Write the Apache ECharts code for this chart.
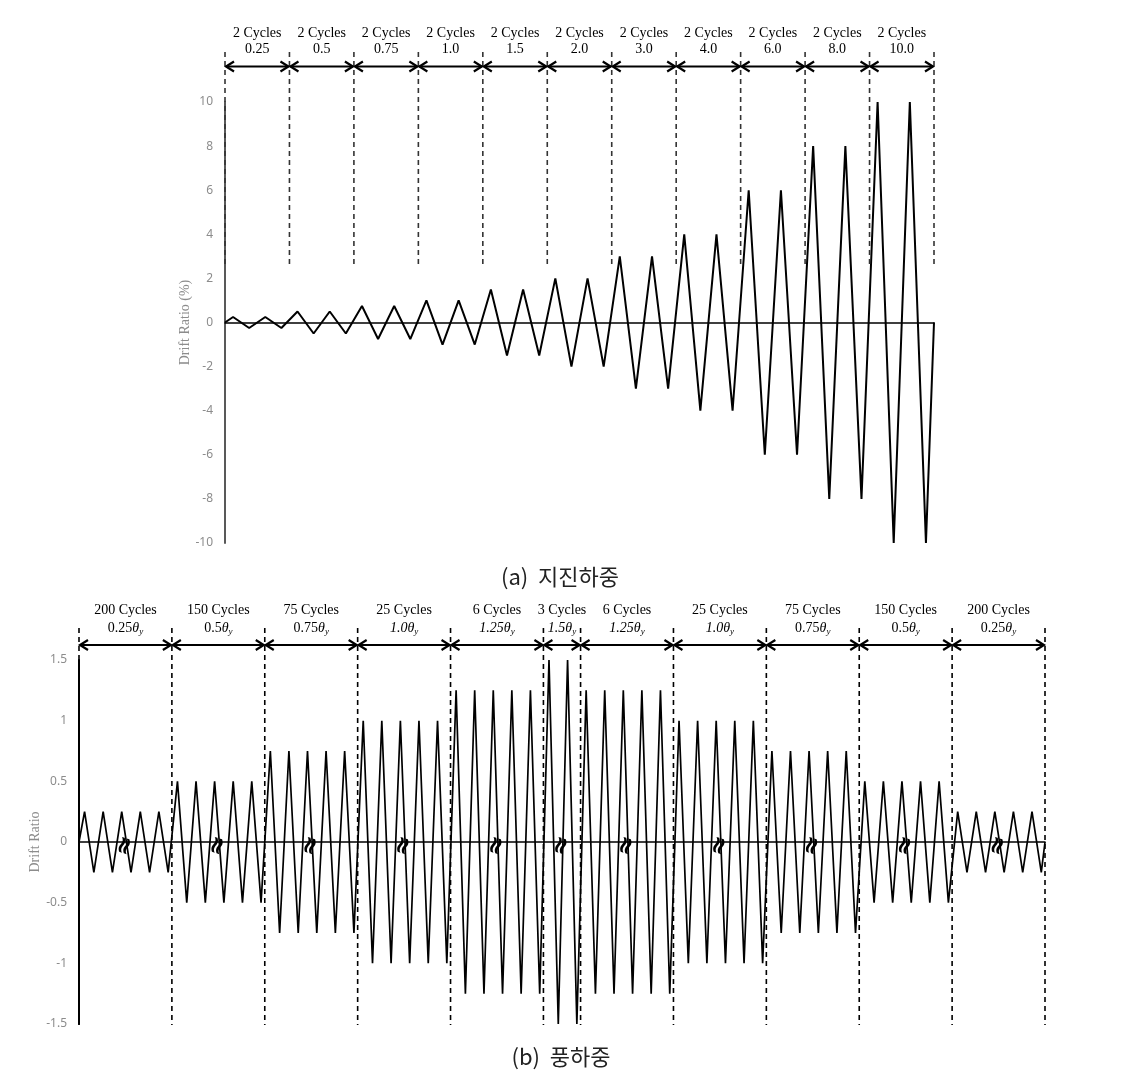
<!DOCTYPE html>
<html>
<head>
<meta charset="utf-8">
<script src="https://cdn.jsdelivr.net/npm/echarts@6/dist/echarts.min.js"></script>
<style>html,body{margin:0;padding:0;background:#fff;}#c{width:1139px;height:1073px;}</style>
</head>
<body>
<div id="c"></div>
<script>
// ---------- (a) seismic loading ----------
const topCycleLabels = ['2 Cycles','2 Cycles','2 Cycles','2 Cycles','2 Cycles','2 Cycles','2 Cycles','2 Cycles','2 Cycles','2 Cycles','2 Cycles'];
const topAmpLabels = ['0.25','0.5','0.75','1.0','1.5','2.0','3.0','4.0','6.0','8.0','10.0'];
const topGroupCycles = [2,2,2,2,2,2,2,2,2,2,2];
const topCycleAmp = [0.25,0.25,0.5,0.5,0.75,0.75,1,1,1.5,1.5,2,2,3,3,4,4,6,6,8,8,10,10];
const topYTicks = {min:-10, max:10, interval:2};

// ---------- (b) wind loading ----------
const botCycleLabels = ['200 Cycles','150 Cycles','75 Cycles','25 Cycles','6 Cycles','3 Cycles','6 Cycles','25 Cycles','75 Cycles','150 Cycles','200 Cycles'];
const botAmpLabels = ['0.25','0.5','0.75','1.0','1.25','1.5','1.25','1.0','0.75','0.5','0.25'];
const botItalic = [false,false,false,true,true,true,true,true,false,false,false];
const botGroupCycles = [5,5,5,5,5,2,5,5,5,5,5];
const botCycleAmp = [
  0.25,0.25,0.25,0.25,0.25,
  0.5,0.5,0.5,0.5,0.5,
  0.75,0.75,0.75,0.75,0.75,
  1.0,1.0,1.0,1.0,1.0,
  1.25,1.25,1.25,1.25,1.25,
  1.5,1.5,
  1.25,1.25,1.25,1.25,1.25,
  1.0,1.0,1.0,1.0,1.0,
  0.75,0.75,0.75,0.75,0.75,
  0.5,0.5,0.5,0.5,0.5,
  0.25,0.25,0.25,0.25,0.25
];
const botYTicks = {min:-1.5, max:1.5, interval:0.5};

function wave(amps, pk, tr) {
  const pts = [[0, 0]];
  amps.forEach((a, k) => { pts.push([k + pk, a]); pts.push([k + tr, -a]); });
  pts.push([amps.length, 0]);
  return pts;
}
function bounds(groups) {
  const b = [0]; groups.forEach(g => b.push(b[b.length - 1] + g)); return b;
}
const topBounds = bounds(topGroupCycles);
const botBounds = bounds(botGroupCycles);

const chart = echarts.init(document.getElementById('c'));
const tickFont = {color:'#8c8c8c', fontSize:12, fontFamily:'Noto Sans'};
chart.setOption({
  animation:false,
  backgroundColor:'#fff',
  grid:[
    {left:225, top:102, width:709, height:441},
    {left:79, top:660, width:966, height:364}
  ],
  xAxis:[
    {gridIndex:0, type:'value', min:0, max:topCycleAmp.length, show:true,
     axisLine:{onZero:true, lineStyle:{color:'#000', width:1.5}}, axisTick:{show:false}, axisLabel:{show:false}, splitLine:{show:false}},
    {gridIndex:1, type:'value', min:0, max:botCycleAmp.length, show:true,
     axisLine:{onZero:true, lineStyle:{color:'#000', width:1.5}}, axisTick:{show:false}, axisLabel:{show:false}, splitLine:{show:false}}
  ],
  yAxis:[
    {gridIndex:0, type:'value', min:topYTicks.min, max:topYTicks.max, interval:topYTicks.interval,
     name:'Drift Ratio (%)', nameLocation:'middle', nameGap:33, nameMoveOverlap:false,
     nameTextStyle:{color:'#8c8c8c', fontSize:14, fontFamily:'Liberation Serif'},
     axisLine:{show:true, onZero:false, lineStyle:{color:'#595959', width:2}}, axisTick:{show:false},
     axisLabel:Object.assign({margin:12}, tickFont), splitLine:{show:false}},
    {gridIndex:1, type:'value', min:botYTicks.min, max:botYTicks.max, interval:botYTicks.interval,
     name:'Drift Ratio', nameLocation:'middle', nameGap:37, nameMoveOverlap:false,
     nameTextStyle:{color:'#8c8c8c', fontSize:14, fontFamily:'Liberation Serif'},
     axisLine:{show:true, onZero:false, lineStyle:{color:'#000', width:2}}, axisTick:{show:false},
     axisLabel:Object.assign({margin:12}, tickFont), splitLine:{show:false}}
  ],
  series:[
    {type:'line', xAxisIndex:0, yAxisIndex:0, data:wave(topCycleAmp, 0.25, 0.75), symbol:'none',
     lineStyle:{color:'#000', width:2}, clip:false},
    {type:'line', xAxisIndex:1, yAxisIndex:1, data:wave(botCycleAmp, 0.3, 0.8), symbol:'none',
     lineStyle:{color:'#000', width:1.7}, clip:false}
  ]
});

// ---------- annotations built from axis scales ----------
const g = [];
function px(grid, x, y) { return chart.convertToPixel({xAxisIndex:grid, yAxisIndex:grid}, [x, y]); }

function arrow(x1, x2, y) {
  const L = 9, H = 5;
  g.push({type:'line', shape:{x1:x1+1, y1:y, x2:x2-1, y2:y}, style:{stroke:'#000', lineWidth:2}, z:10});
  g.push({type:'polyline', shape:{points:[[x1+L, y-H],[x1+1, y],[x1+L, y+H]]}, style:{stroke:'#000', lineWidth:2.2, fill:null}, z:10});
  g.push({type:'polyline', shape:{points:[[x2-L, y-H],[x2-1, y],[x2-L, y+H]]}, style:{stroke:'#000', lineWidth:2.2, fill:null}, z:10});
}
function dashed(x, y1, y2, color, w) {
  g.push({type:'line', shape:{x1:x, y1:y1, x2:x, y2:y2}, style:{stroke:color, lineWidth:w, lineDash:[5,4]}, z:5});
}

// top
topBounds.forEach(b => { const p = px(0, b, 0); dashed(p[0], 52, 264, '#333', 1.6); });
for (let i = 0; i < topAmpLabels.length; i++) {
  const a = px(0, topBounds[i], 0)[0], b = px(0, topBounds[i+1], 0)[0];
  arrow(a, b, 66.5);
  g.push({type:'text', x:(a+b)/2, y:33, style:{text:topCycleLabels[i], align:'center', verticalAlign:'middle', fontFamily:'Liberation Serif', fontSize:14, fill:'#000'}});
  g.push({type:'text', x:(a+b)/2, y:49, style:{text:topAmpLabels[i], align:'center', verticalAlign:'middle', fontFamily:'Liberation Serif', fontSize:14, fill:'#000'}});
}
// bottom
botBounds.forEach(b => { const p = px(1, b, 0); dashed(p[0], 628, 1025, '#000', 1.6); });
for (let i = 0; i < botAmpLabels.length; i++) {
  const a = px(1, botBounds[i], 0)[0], b = px(1, botBounds[i+1], 0)[0];
  arrow(a, b, 645);
  g.push({type:'text', x:(a+b)/2, y:610, style:{text:botCycleLabels[i], align:'center', verticalAlign:'middle', fontFamily:'Liberation Serif', fontSize:14, fill:'#000'}});
  const st = botItalic[i] ? 'italic' : 'normal';
  g.push({type:'text', x:(a+b)/2, y:628, style:{
    text:'{n|' + botAmpLabels[i] + '}{t|θ}{s|y}', align:'center', verticalAlign:'middle',
    rich:{
      n:{fontFamily:'Liberation Serif', fontSize:14, fontStyle:st, lineHeight:18, fill:'#000'},
      t:{fontFamily:'Liberation Serif', fontSize:14, fontStyle:'italic', lineHeight:18, fill:'#000'},
      s:{fontFamily:'Liberation Serif', fontSize:9, fontStyle:'italic', lineHeight:18, fill:'#000', padding:[8,0,0,0]}
    }}});
  const c = px(1, (botBounds[i] + botBounds[i+1]) / 2, 0);
  g.push({type:'text', x:c[0], y:c[1]+4, rotation:1.25, style:{text:'≈', align:'center', verticalAlign:'middle', fontFamily:'DejaVu Sans', fontWeight:'bold', fontSize:24, fill:'#000'}, z:20});
}

// captions
g.push({type:'text', x:560, y:577, style:{text:'(a)  지진하중', align:'center', verticalAlign:'middle', fontFamily:'Noto Sans CJK KR', fontSize:22, fill:'#222'}});
g.push({type:'text', x:561, y:1057, style:{text:'(b)  풍하중', align:'center', verticalAlign:'middle', fontFamily:'Noto Sans CJK KR', fontSize:22, fill:'#222'}});

chart.setOption({graphic:g});
</script>
</body>
</html>
